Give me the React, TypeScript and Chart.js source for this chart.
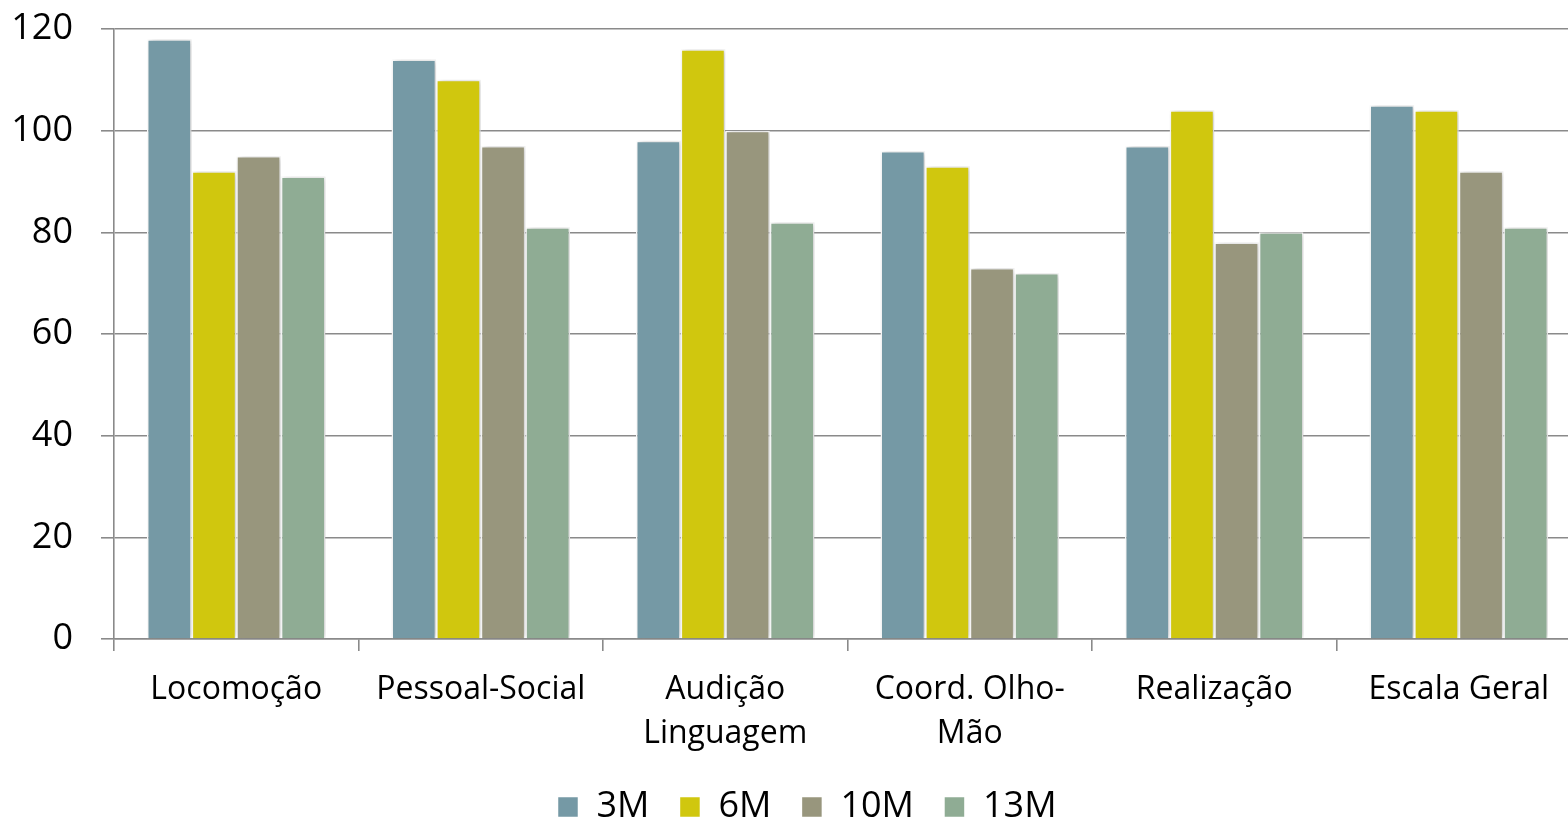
import React, { useEffect, useRef } from "react";
import { Chart, registerables } from "chart.js";

Chart.register(...registerables);

const categories: (string | string[])[] = [
  "Locomoção",
  "Pessoal-Social",
  ["Audição", "Linguagem"],
  ["Coord. Olho-", "Mão"],
  "Realização",
  "Escala Geral",
];

const seriesNames = ["3M", "6M", "10M", "13M"];
const values3M = [118, 114, 98, 96, 97, 105];
const values6M = [92, 110, 116, 93, 104, 104];
const values10M = [95, 97, 100, 73, 78, 92];
const values13M = [91, 81, 82, 72, 80, 81];
const seriesColors = ["#7599a5", "#d0c70e", "#98967d", "#8fac94"];

const yMin = 0;
const yMax = 120;
const yStep = 20;

const FONT = "'Open Sans', 'Noto Sans', sans-serif";

const shadowPlugin = {
  id: "barShadow",
  beforeDatasetsDraw(chart: any) {
    const ctx = chart.ctx;
    ctx.save();
    ctx.shadowColor = "rgba(0,0,0,0.22)";
    ctx.shadowBlur = 6;
    ctx.shadowOffsetX = 2;
    ctx.shadowOffsetY = 0;
  },
  afterDatasetsDraw(chart: any) {
    chart.ctx.restore();
  },
};

const legendCenterPlugin = {
  id: "legendCenter",
  afterLayout(chart: any) {
    const lg = chart.legend;
    if (!lg) return;
    lg.left = 0;
    lg.right = chart.width - 2;
    lg.width = chart.width - 2;
  },
};

export default function App() {
  const ref = useRef<HTMLCanvasElement | null>(null);

  useEffect(() => {
    if (!ref.current) return;
    const allValues = [values3M, values6M, values10M, values13M];
    const chart = new Chart(ref.current, {
      type: "bar",
      data: {
        labels: categories,
        datasets: seriesNames.map((name, i) => ({
          label: name,
          data: allValues[i],
          backgroundColor: seriesColors[i],
          borderColor: "#ffffff",
          borderWidth: 1.5,
          borderSkipped: "bottom",
          categoryPercentage: 0.73,
          barPercentage: 1.0,
        })),
      },
      options: {
        responsive: false,
        animation: false,
        devicePixelRatio: 1,
        layout: { padding: { top: 29, right: 35, left: 0, bottom: 0 } },
        plugins: {
          legend: {
            position: "bottom",
            labels: {
              font: { family: FONT, size: 36 },
              color: "#000",
              boxWidth: 21,
              boxHeight: 21,
              padding: 30,
            },
          },
          tooltip: { enabled: false },
        },
        scales: {
          x: {
            offset: true,
            grid: {
              offset: true,
              drawOnChartArea: false,
              drawTicks: true,
              tickLength: 12,
              color: "#8a8a8a",
              lineWidth: 1.6,
            },
            border: { display: true, color: "#8a8a8a", width: 1.6 },
            ticks: {
              font: { family: FONT, size: 32, lineHeight: 1.4 },
              color: "#000",
              padding: 16,
              maxRotation: 0,
              autoSkip: false,
            },
            afterFit(scale: any) {
              scale.height = 120;
            },
          },
          y: {
            min: yMin,
            max: yMax,
            ticks: {
              stepSize: yStep,
              font: { family: FONT, size: 36 },
              color: "#000",
              padding: 28,
            },
            grid: {
              color: "#8a8a8a",
              lineWidth: 1.6,
              tickLength: 13,
            },
            border: { display: true, color: "#8a8a8a", width: 1.6 },
            afterFit(scale: any) {
              scale.width = 114;
              scale.paddingTop = 0;
              scale.paddingBottom = 0;
            },
          },
        },
      },
      plugins: [shadowPlugin, legendCenterPlugin],
    });
    return () => chart.destroy();
  }, []);

  return (
    <div
      style={{
        position: "fixed",
        left: 0,
        top: 0,
        width: 1568,
        height: 820,
        overflow: "hidden",
        background: "#fff",
      }}
    >
      <canvas ref={ref} width={1616} height={835} style={{ display: "block" }} />
    </div>
  );
}
